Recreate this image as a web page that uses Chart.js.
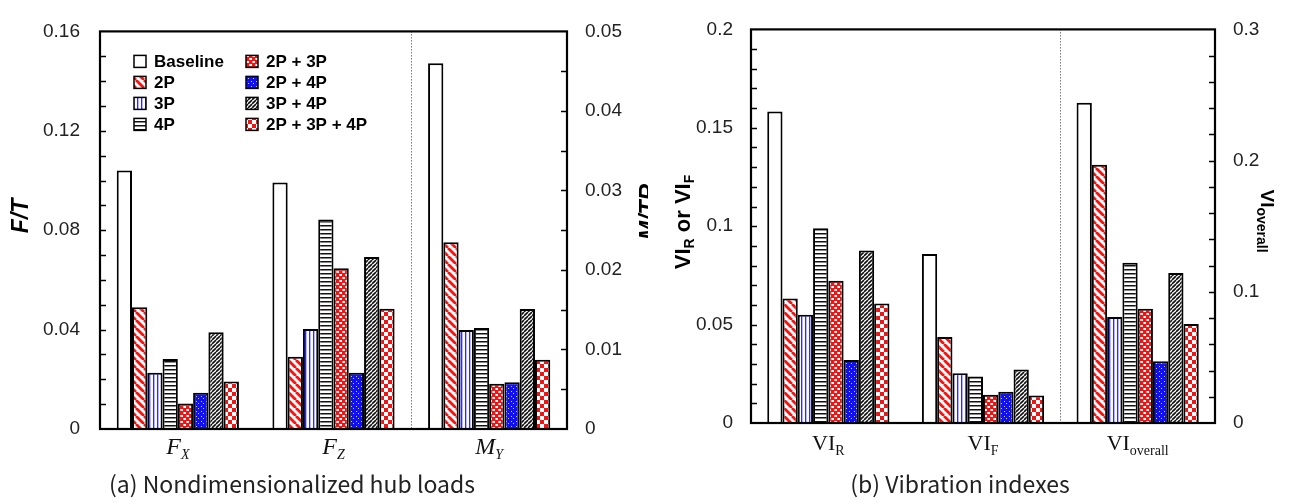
<!DOCTYPE html>
<html>
<head>
<meta charset="utf-8">
<script src="https://cdn.jsdelivr.net/npm/chart.js@4"></script>
<style>
  html, body { margin: 0; padding: 0; background: #fff; }
  #wrap { position: relative; width: 1289px; height: 502px; overflow: hidden; }
  canvas { position: absolute; top: 0; }
</style>
</head>
<body>
<div id="wrap">
  <canvas id="hubChart" width="648" height="502" style="left:0"></canvas>
  <canvas id="vibChart" width="641" height="502" style="left:648px"></canvas>
</div>
<script>
// series (same order in both panels)
const seriesNames = ['Baseline', '2P', '3P', '4P', '2P + 3P', '2P + 4P', '3P + 4P', '2P + 3P + 4P'];

// (a) hub loads: Fx, Fz read on left axis (F/T), My read on right axis (M/TR)
const hubLabels = [['F', 'X'], ['F', 'Z'], ['M', 'Y']];
const fx = [0.104, 0.049, 0.0226, 0.0282, 0.0103, 0.0146, 0.0389, 0.0191];
const fz = [0.0992, 0.0291, 0.0402, 0.0843, 0.0647, 0.0226, 0.0692, 0.0484];
const my = [0.0460, 0.0235, 0.01245, 0.0127, 0.00568, 0.00588, 0.0151, 0.00872];

// (b) vibration indexes: VI_R, VI_F on left axis, VI_overall on right axis
const vibLabels = [['VI', 'R'], ['VI', 'F'], ['VI', 'overall']];
const viR = [0.1583, 0.0632, 0.0550, 0.0989, 0.0723, 0.0320, 0.0877, 0.0607];
const viF = [0.0859, 0.0437, 0.0253, 0.0236, 0.0143, 0.0159, 0.0272, 0.0140];
const viOverall = [0.2441, 0.1968, 0.0808, 0.1222, 0.0870, 0.0470, 0.1143, 0.0754];

const RED = '#f01414';
const BLUE = '#1010f0';

function makePattern(w, h, draw) {
  const c = document.createElement('canvas');
  c.width = w; c.height = h;
  const g = c.getContext('2d');
  draw(g, w, h);
  return g.createPattern(c, 'repeat');
}

const fills = [
  '#ffffff',
  // 2P: red "\" stripes
  makePattern(8, 8, (g) => {
    g.fillStyle = '#fff'; g.fillRect(0, 0, 8, 8);
    g.strokeStyle = RED; g.lineWidth = 2.8;
    [-8, 0, 8].forEach(k => { g.beginPath(); g.moveTo(k, 0); g.lineTo(k + 8, 8); g.stroke(); });
  }),
  // 3P: thin blue vertical lines
  makePattern(4, 4, (g) => {
    g.fillStyle = '#fff'; g.fillRect(0, 0, 4, 4);
    g.fillStyle = '#2a2aff'; g.fillRect(1, 0, 1, 4);
    g.fillStyle = '#b4b4ff'; g.fillRect(2, 0, 1, 4);
  }),
  // 4P: black horizontal lines
  makePattern(4, 4, (g) => {
    g.fillStyle = '#fff'; g.fillRect(0, 0, 4, 4);
    g.fillStyle = '#111'; g.fillRect(0, 1, 4, 1);
    g.fillStyle = '#888'; g.fillRect(0, 2, 4, 1);
  }),
  // 2P + 3P: red with white dots
  makePattern(6, 6, (g) => {
    g.fillStyle = RED; g.fillRect(0, 0, 6, 6);
    g.fillStyle = '#fff'; g.fillRect(1, 1, 2, 2); g.fillRect(4, 4, 2, 2);
    g.fillStyle = '#f7a0a0'; g.fillRect(0, 1, 1, 2); g.fillRect(3, 4, 1, 2);
  }),
  // 2P + 4P: blue with small white dots
  makePattern(5, 5, (g) => {
    g.fillStyle = BLUE; g.fillRect(0, 0, 5, 5);
    g.fillStyle = '#c8c8ff'; g.fillRect(1, 1, 1, 1); g.fillRect(3, 3, 1, 1);
  }),
  // 3P + 4P: dense black "/" hatch
  makePattern(4, 4, (g) => {
    g.fillStyle = '#fff'; g.fillRect(0, 0, 4, 4);
    g.strokeStyle = '#111'; g.lineWidth = 1.6;
    [-4, 0, 4].forEach(k => { g.beginPath(); g.moveTo(k, 4); g.lineTo(k + 4, 0); g.stroke(); });
  }),
  // 2P + 3P + 4P: red / white checkerboard
  makePattern(8, 8, (g) => {
    g.fillStyle = '#fff'; g.fillRect(0, 0, 8, 8);
    g.fillStyle = RED; g.fillRect(0, 0, 4, 4); g.fillRect(4, 4, 4, 4);
  })
];

// rich text: parts = [text, fontSize, dy] ; drawn around (x,y) with rotation
function richText(ctx, parts, x, y, angle, family, weight, style, shift) {
  ctx.save();
  ctx.translate(x, y);
  ctx.rotate(angle);
  ctx.textAlign = 'left';
  ctx.textBaseline = 'alphabetic';
  let total = 0;
  const widths = parts.map(p => {
    ctx.font = `${style} ${weight} ${p[1]}px ${family}`;
    const w = ctx.measureText(p[0]).width;
    total += w;
    return w;
  });
  let cx = -total / 2;
  parts.forEach((p, i) => {
    ctx.font = `${style} ${weight} ${p[1]}px ${family}`;
    ctx.fillText(p[0], cx, (p[2] || 0) + shift);
    cx += widths[i];
  });
  ctx.restore();
}

function buildDatasets(a, b, c) {
  const out = [];
  seriesNames.forEach((name, i) => {
    out.push({ label: name, data: [a[i], b[i], null], yAxisID: 'y', backgroundColor: fills[i] });
  });
  seriesNames.forEach((name, i) => {
    out.push({ label: name, data: [null, null, c[i]], yAxisID: 'y1', backgroundColor: fills[i] });
  });
  return out;
}

// decorations: frame, inward ticks, dotted divider, category labels, titles, legend
function decorPlugin(cfg) {
  return {
    id: 'decor',
    afterDatasetsDraw(chart) {
      const ctx = chart.ctx;
      const ca = chart.chartArea;
      const xs = chart.scales.x;
      ctx.save();

      // dotted divider between 2nd and 3rd group
      const xd = Math.round((xs.getPixelForValue(1) + xs.getPixelForValue(2)) / 2) + 0.5;
      ctx.strokeStyle = '#333';
      ctx.lineWidth = 1;
      ctx.setLineDash([1, 2]);
      ctx.beginPath(); ctx.moveTo(xd, ca.top); ctx.lineTo(xd, ca.bottom); ctx.stroke();
      ctx.setLineDash([]);

      // inward minor/major ticks
      ctx.strokeStyle = '#000';
      ctx.lineWidth = 1.5;
      [['y', cfg.leftMinor, ca.left, 6], ['y1', cfg.rightMinor, ca.right, -6]].forEach(([id, step, x0, len]) => {
        const s = chart.scales[id];
        const n = Math.round(s.max / step);
        for (let i = 1; i < n; i++) {
          const y = Math.round(s.getPixelForValue(i * step)) + 0.5;
          ctx.beginPath(); ctx.moveTo(x0, y); ctx.lineTo(x0 + len, y); ctx.stroke();
        }
      });

      // frame
      ctx.lineWidth = 2.2;
      ctx.strokeRect(ca.left, ca.top, ca.right - ca.left, ca.bottom - ca.top);

      // category labels with subscripts
      ctx.fillStyle = '#111';
      cfg.labels.forEach((lab, i) => {
        const x = xs.getPixelForValue(i);
        richText(ctx, [[lab[0], cfg.catSize], [lab[1], cfg.subSize, 5]], x, ca.bottom + cfg.catDy, 0,
          '"Liberation Serif", "Times New Roman", serif', 'normal', cfg.catStyle, 0);
      });

      // axis titles
      ctx.fillStyle = '#000';
      cfg.titles.forEach(t => {
        richText(ctx, t.parts, t.x, t.y, t.angle, '"Liberation Sans", Arial, sans-serif', 'bold', t.style || 'normal', t.shift);
      });

      // caption
      ctx.fillStyle = '#222';
      ctx.font = '23px "Noto Sans CJK KR", "Noto Sans", sans-serif';
      ctx.textAlign = 'center';
      ctx.textBaseline = 'middle';
      ctx.fillText(cfg.caption, cfg.capX, 484);

      // legend (two columns)
      if (cfg.legend) {
        ctx.font = 'bold 17px "Liberation Sans", Arial, sans-serif';
        ctx.textAlign = 'left';
        ctx.textBaseline = 'middle';
        seriesNames.forEach((name, i) => {
          const col = Math.floor(i / 4), row = i % 4;
          const bx = ca.left + 34 + col * 112;
          const by = ca.top + 30 + row * 21;
          ctx.fillStyle = fills[i];
          ctx.fillRect(bx, by - 6, 12, 12);
          ctx.strokeStyle = '#000';
          ctx.lineWidth = 1.5;
          ctx.strokeRect(bx, by - 6, 12, 12);
          ctx.fillStyle = '#000';
          ctx.fillText(name, bx + 20, by + 1);
        });
      }
      ctx.restore();
    }
  };
}

const tickFont = { family: '"Liberation Sans", Arial, sans-serif', size: 19 };
const tickText = (v) => String(parseFloat(v.toFixed(4)));

function makeOptions(o) {
  return {
    responsive: false,
    animation: false,
    layout: { padding: { top: o.top, left: 0, right: 0, bottom: 0 } },
    datasets: { bar: { skipNull: true, categoryPercentage: o.catPct, barPercentage: 1.0, borderColor: '#000', borderWidth: 2 } },
    plugins: { legend: { display: false }, tooltip: { enabled: false } },
    scales: {
      x: {
        grid: { display: false, drawTicks: false },
        border: { display: false },
        ticks: { display: false },
        afterFit(s) { s.height = o.xHeight; }
      },
      y: {
        position: 'left', min: 0, max: o.leftMax,
        grid: { display: false, drawTicks: false },
        border: { display: false },
        ticks: { stepSize: o.leftStep, padding: o.leftPad, color: '#222', font: tickFont, callback: tickText },
        afterFit(s) { s.width = o.leftWidth; }
      },
      y1: {
        position: 'right', min: 0, max: o.rightMax,
        grid: { display: false, drawTicks: false },
        border: { display: false },
        ticks: { stepSize: o.rightStep, padding: 18, color: '#222', font: tickFont, callback: tickText },
        afterFit(s) { s.width = o.rightWidth; }
      }
    }
  };
}

new Chart(document.getElementById('hubChart').getContext('2d'), {
  type: 'bar',
  data: { labels: hubLabels.map(l => l.join('')), datasets: buildDatasets(fx, fz, my) },
  options: makeOptions({ top: 18, catPct: 0.785, xHeight: 73, leftMax: 0.16, leftStep: 0.04, leftPad: 20,
    leftWidth: 100, rightMax: 0.05, rightStep: 0.01, rightWidth: 81 }),
  plugins: [decorPlugin({
    leftMinor: 0.01, rightMinor: 0.005, labels: hubLabels, catSize: 24, subSize: 14, catDy: 25, catStyle: 'italic',
    caption: '(a) Nondimensionalized hub loads', capX: 292, legend: true,
    titles: [
      { parts: [['F/T', 23]], x: 20, y: 216, angle: -Math.PI / 2, style: 'italic', shift: 8 },
      { parts: [['M/TR', 23]], x: 648, y: 212, angle: -Math.PI / 2, style: 'italic', shift: 8 }
    ]
  })]
});

new Chart(document.getElementById('vibChart').getContext('2d'), {
  type: 'bar',
  data: { labels: vibLabels.map(l => l.join('')), datasets: buildDatasets(viR, viF, viOverall) },
  options: makeOptions({ top: 17, catPct: 0.79, xHeight: 79, leftMax: 0.2, leftStep: 0.05, leftPad: 18,
    leftWidth: 103, rightMax: 0.3, rightStep: 0.1, rightWidth: 74 }),
  plugins: [decorPlugin({
    leftMinor: 0.01, rightMinor: 0.02, labels: vibLabels, catSize: 22, subSize: 14, catDy: 27, catStyle: 'normal',
    caption: '(b) Vibration indexes', capX: 312, legend: false,
    titles: [
      { parts: [['VI', 22], ['R', 14, 4], [' or ', 22], ['VI', 22], ['F', 14, 4]], x: 34, y: 222, angle: -Math.PI / 2, shift: 8 },
      { parts: [['VI', 19], ['overall', 14, 4]], x: 620, y: 221, angle: Math.PI / 2, shift: 7 }
    ]
  })]
});
</script>
</body>
</html>
